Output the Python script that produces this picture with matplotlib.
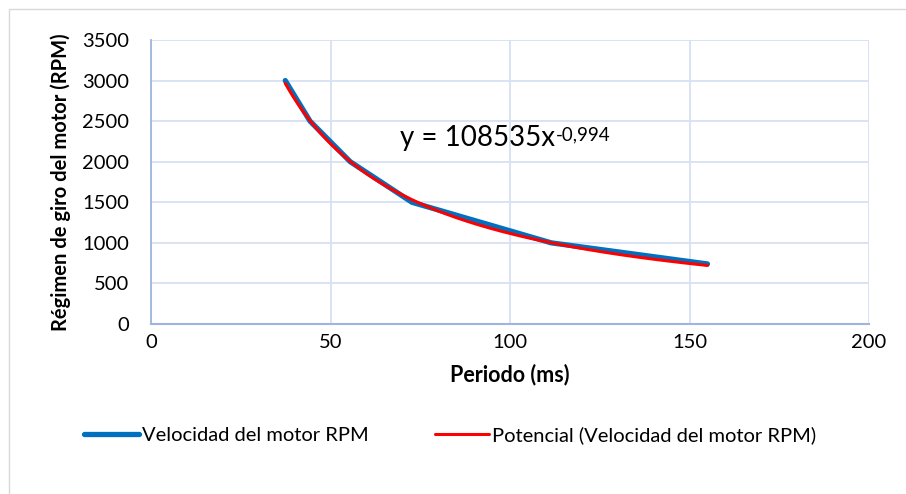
import numpy as np
import matplotlib
matplotlib.use("Agg")
import matplotlib.pyplot as plt
from matplotlib.patches import Rectangle

# Data
periodo_ms = [37.4, 44.3, 55.5, 72.7, 111.5, 155.0]
rpm = [3000, 2500, 2000, 1500, 1000, 740]
coef_a = 108535
coef_b = -0.994
x_ticks = [0, 50, 100, 150, 200]
y_ticks = [0, 500, 1000, 1500, 2000, 2500, 3000, 3500]
series_label = "Velocidad del motor RPM"
trend_label = "Potencial (Velocidad del motor RPM)"
x_label = "Periodo (ms)"
y_label = "Régimen de giro del motor (RPM)"
eq_main = "y = 108535x"
eq_sup = "-0,994"

plt.rcParams['font.family'] = ['Lato', 'DejaVu Sans']

fig = plt.figure(figsize=(9.06, 4.94), dpi=100)
ax = fig.add_axes([151/906, 1-324/494, (869-151)/906, (324-40)/494])

# outer chart border
fig.patches.append(Rectangle((9/906, -0.1), 1.2, 1 - 9/494 + 0.1, transform=fig.transFigure,
                             fill=False, edgecolor='#d9d9d9', lw=1.0, zorder=0))

blue = '#0070C0'
red = '#FF0000'

ax.plot(periodo_ms, rpm, color=blue, lw=3.8, solid_capstyle='round', solid_joinstyle='round',
        label=series_label, zorder=3)
xs = np.linspace(min(periodo_ms), max(periodo_ms), 300)
ax.plot(xs, coef_a * xs ** coef_b, color=red, lw=2.2, solid_capstyle='round',
        label=trend_label, zorder=4)

ax.set_xlim(0, 200)
ax.set_ylim(0, 3500)
ax.set_xticks(x_ticks)
ax.set_yticks(y_ticks)
ax.grid(True, color='#d6e1f3', lw=1.3)
ax.set_axisbelow(True)
for s in ['top', 'right']:
    ax.spines[s].set_visible(False)
ax.spines['left'].set_color('#9db5e0')
ax.spines['bottom'].set_color('#9db5e0')
ax.spines['left'].set_linewidth(1.3)
ax.spines['bottom'].set_linewidth(1.5)
ax.tick_params(axis='both', length=0, labelsize=14.5, colors='#000000')
ax.tick_params(axis='y', pad=16)
ax.tick_params(axis='x', pad=7)

ax.set_xlabel(x_label, fontsize=15.5, fontweight='bold', labelpad=9)
ax.set_ylabel(y_label, fontsize=14.5, fontweight='bold', labelpad=8)

t = ax.text(69.4, 2196, eq_main, fontsize=20, ha='left', va='baseline', zorder=5)
ax.annotate(eq_sup, xy=(1, 1), xycoords=t, xytext=(0.5, -1), textcoords='offset points',
            ha='left', va='top', fontsize=13.5, zorder=5)

fig.legend(loc='center', bbox_to_anchor=(0.497, 1 - 435/494), ncol=2, frameon=False,
           fontsize=14.5, handlelength=2.7, handletextpad=0.15, columnspacing=3.3)

fig.savefig('out.png', dpi=100)
